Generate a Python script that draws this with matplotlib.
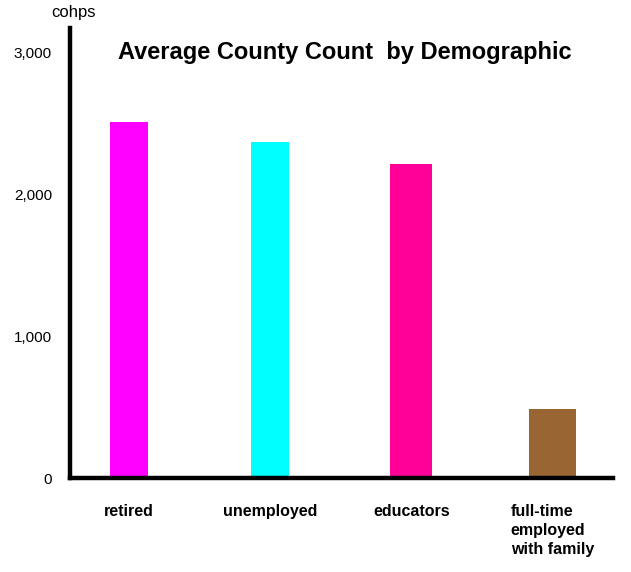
#!/usr/bin/env python3
# plot.py - average county count by demographic, bar chart
import numpy as np
import matplotlib
matplotlib.use("Agg")
import matplotlib.pyplot as plt

# Data
categories = ["retired", "unemployed", "educators", "full-time\nemployed\nwith family"]
counts = [2510, 2365, 2215, 485]
bar_colors = ["#ff00ff", "#00ffff", "#ff0099", "#996633"]
bar_widths = [0.27, 0.27, 0.30, 0.33]
y_ticks = [0, 1000, 2000, 3000]
y_tick_labels = ["0", "1,000", "2,000", "3,000"]

plt.rcParams["font.family"] = ["Liberation Sans", "DejaVu Sans"]

fig = plt.figure(figsize=(6.31, 5.72), dpi=100)
# axes box in pixels: x 70..613, y 28..478 (from top)
W, H = 631, 572
ax = fig.add_axes([70 / W, (H - 478) / H, (613 - 70) / W, (478 - 28) / H])

x = np.arange(len(categories))
ax.bar(x, counts, width=bar_widths, color=bar_colors, zorder=2)

ax.set_xlim(-0.418, 3.43)
ax.set_ylim(0, 3170)

ax.set_yticks(y_ticks)
ax.set_yticklabels(y_tick_labels, fontsize=11)
ax.set_xticks(x)
ax.set_xticklabels(categories, fontsize=11.5, fontweight="bold",
                   multialignment="left", va="top", linespacing=1.3)
ax.tick_params(axis="both", length=0)
ax.tick_params(axis="y", pad=13)
ax.tick_params(axis="x", pad=19)

for side in ["top", "right"]:
    ax.spines[side].set_visible(False)
for side in ["left", "bottom"]:
    ax.spines[side].set_linewidth(3.2)
    ax.spines[side].set_color("black")

fig.text(73 / W, 1 - 13 / H, "cohps", ha="center", va="center", fontsize=12)
fig.text(345 / W, 1 - 52 / H, "Average County Count  by Demographic",
         ha="center", va="center", fontsize=17, fontweight="bold")

plt.savefig("out.png", dpi=100)
plt.close()
